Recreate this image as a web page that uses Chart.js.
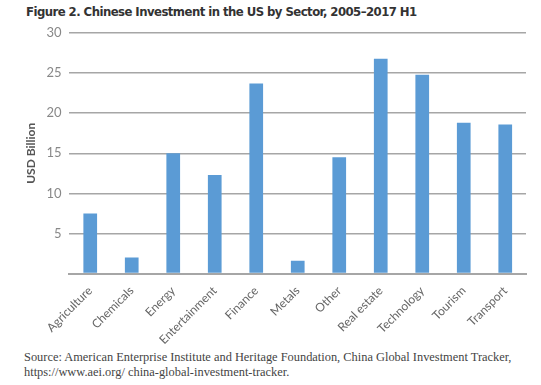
<!DOCTYPE html>
<html>
<head>
<meta charset="utf-8">
<script src="https://cdn.jsdelivr.net/npm/chart.js@4"></script>
<style>
  html, body { margin: 0; padding: 0; background: #fff; }
  #wrap { position: relative; width: 541px; height: 385px; overflow: hidden; }
  #title {
    position: absolute; left: 26px; top: 4px; white-space: nowrap;
    font-family: "Liberation Sans Narrow", "DejaVu Sans Condensed", sans-serif;
    font-weight: bold; font-size: 13px; letter-spacing: -0.55px; color: #333;
  }
  #source {
    position: absolute; left: 24px; top: 350px; white-space: nowrap;
    font-family: "Liberation Serif", serif; font-size: 12.4px; line-height: 15px; color: #444;
  }
  #box { position: absolute; left: 0; top: 0; width: 541px; height: 349px; }
</style>
</head>
<body>
<div id="wrap">
  <div id="title">Figure 2. Chinese Investment in the US by Sector, 2005–2017 H1</div>
  <div id="box"><canvas id="c"></canvas></div>
  <div id="source">Source: American Enterprise Institute and Heritage Foundation, China Global Investment Tracker,<br>https://www.aei.org/ china-global-investment-tracker.</div>
</div>
<script>
// sectors and investment, USD billion
const sectors = ["Agriculture", "Chemicals", "Energy", "Entertainment", "Finance", "Metals",
  "Other", "Real estate", "Technology", "Tourism", "Transport"];
const invest = [7.5, 2.0, 15.0, 12.3, 23.7, 1.6, 14.5, 26.8, 24.8, 18.8, 18.6];
const yTicks = [0, 5, 10, 15, 20, 25, 30];

const gris = "#a6a6a6";

new Chart(document.getElementById("c"), {
  type: "bar",
  data: {
    labels: sectors,
    datasets: [{
      label: "USD Billion",
      data: invest,
      backgroundColor: "#5b9bd5",
      barPercentage: 0.33,
      categoryPercentage: 1
    }]
  },
  options: {
    responsive: true,
    maintainAspectRatio: false,
    animation: false,
    layout: { padding: { left: 24, right: 15, top: 33, bottom: 0 } },
    plugins: {
      legend: { display: false },
      tooltip: { enabled: false }
    },
    scales: {
      x: {
        grid: { display: false },
        border: { color: gris, width: 2 },
        ticks: {
          minRotation: 45, maxRotation: 45,
          color: "#666", padding: 2,
          font: { family: "Lato, 'Open Sans', sans-serif", size: 12 }
        }
      },
      y: {
        min: 0, max: 30,
        afterBuildTicks: (ax) => { ax.ticks = yTicks.map(v => ({ value: v })); },
        grid: { color: gris, lineWidth: 1.5, drawTicks: false },
        border: { display: false },
        ticks: {
          color: "#888", padding: 8,
          font: { family: "Lato, 'Open Sans', sans-serif", size: 13 },
          callback: (v) => (v === 0 ? "" : v)
        },
        title: {
          display: true, text: "USD Billion", color: "#555",
          font: { family: "Lato, 'Open Sans', sans-serif", size: 12, weight: "bold" },
          padding: { top: 0, bottom: 0 }
        }
      }
    }
  }
});
</script>
</body>
</html>
